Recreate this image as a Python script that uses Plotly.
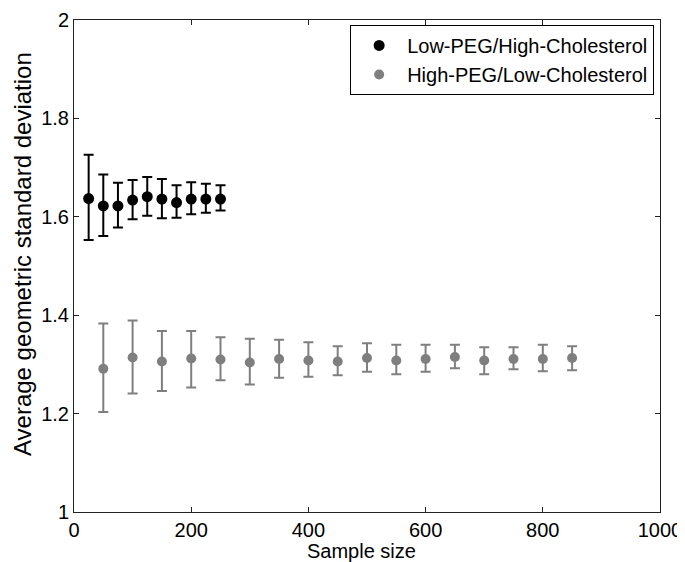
import plotly.graph_objects as go

# Low-PEG/High-Cholesterol
x_low = [25, 50, 75, 100, 125, 150, 175, 200, 225, 250]
y_low = [1.637, 1.622, 1.622, 1.634, 1.641, 1.636, 1.629, 1.636, 1.636, 1.636]
hi_low = [1.726, 1.686, 1.669, 1.675, 1.681, 1.677, 1.664, 1.670, 1.667, 1.664]
lo_low = [1.553, 1.561, 1.578, 1.595, 1.602, 1.597, 1.598, 1.605, 1.608, 1.613]

# High-PEG/Low-Cholesterol
x_high = [50, 100, 150, 200, 250, 300, 350, 400, 450, 500, 550, 600, 650, 700, 750, 800, 850]
y_high = [1.291, 1.314, 1.306, 1.312, 1.310, 1.304, 1.311, 1.308, 1.306, 1.313, 1.308,
          1.311, 1.315, 1.308, 1.311, 1.311, 1.313]
hi_high = [1.383, 1.389, 1.368, 1.368, 1.355, 1.352, 1.350, 1.345, 1.337, 1.343, 1.340,
           1.340, 1.340, 1.335, 1.335, 1.340, 1.337]
lo_high = [1.203, 1.241, 1.246, 1.253, 1.268, 1.259, 1.273, 1.275, 1.278, 1.285, 1.280,
           1.285, 1.292, 1.280, 1.290, 1.286, 1.288]

def err(y, hi, lo, color):
    return dict(type="data", symmetric=False,
                array=[h - v for h, v in zip(hi, y)],
                arrayminus=[v - l for v, l in zip(y, lo)],
                color=color, thickness=2, width=5)

fig = go.Figure()
fig.add_trace(go.Scatter(
    x=x_low, y=y_low, mode="markers", name="Low-PEG/High-Cholesterol",
    marker=dict(color="black", size=11),
    error_y=err(y_low, hi_low, lo_low, "black"),
))
fig.add_trace(go.Scatter(
    x=x_high, y=y_high, mode="markers", name="High-PEG/Low-Cholesterol",
    marker=dict(color="#7f7f7f", size=10),
    error_y=err(y_high, hi_high, lo_high, "#7f7f7f"),
))

axis_style = dict(showline=True, linecolor="#222", linewidth=1, mirror="allticks",
                  ticks="inside", ticklen=5, tickcolor="#222", showgrid=False,
                  zeroline=False, automargin=False, tickfont=dict(size=20, color="black"))

# the page body keeps its 8px default margin, so the figure is 8px smaller
fig.update_layout(
    width=677, height=554,
    margin=dict(l=66, r=25, t=12, b=50),
    paper_bgcolor="white", plot_bgcolor="white",
    font=dict(family="Liberation Sans, Arial, sans-serif", color="black"),
    xaxis=dict(range=[0, 1000], dtick=200, **axis_style),
    yaxis=dict(range=[1, 2], dtick=0.2, **axis_style),
    legend=dict(x=0.99, y=0.99, xanchor="right", yanchor="top",
                bordercolor="black", borderwidth=1, bgcolor="white",
                font=dict(size=20), itemwidth=46, tracegroupgap=0),
    showlegend=True,
)

# axis titles
fig.add_annotation(text="Sample size", xref="paper", yref="paper", x=0.49, y=-0.079,
                   xanchor="center", yanchor="middle", showarrow=False, font=dict(size=20))
fig.add_annotation(text="Average geometric standard deviation", xref="paper", yref="paper",
                   x=-0.089, y=0.524, xanchor="center", yanchor="middle", textangle=-90,
                   showarrow=False, font=dict(size=24))

fig.write_html("out.html")
